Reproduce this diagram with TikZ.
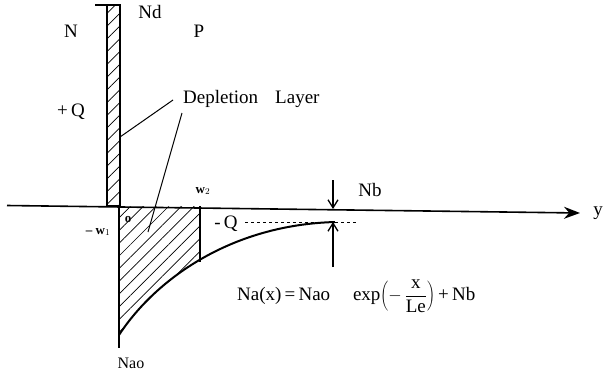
\documentclass[tikz,border=0pt]{standalone}
\usepackage{fontspec}
\setmainfont{Liberation Serif}
\usetikzlibrary{patterns.meta,arrows.meta}
\begin{document}
\begin{tikzpicture}[x=1pt,y=-1pt,
  lbl/.style={inner sep=0pt, font=\fontsize{19}{22}\selectfont},
  smalllbl/.style={inner sep=0pt, font=\fontsize{13}{15}\selectfont\bfseries},
  hatch/.style={pattern={Lines[angle=45,distance=9pt,line width=0.7pt]}},
  mainline/.style={line width=1.6pt},
  leader/.style={line width=1pt},
  nbarrow/.style={line width=1.3pt,-{Straight Barb[length=8pt,width=10pt,line width=1.3pt]}}]
\useasboundingbox (0,0) rectangle (604,375);
% axis
\draw[mainline,-{Stealth[length=16pt,width=12pt]}] (7,205.5) -- (580,213);
% upper hatched block (+Q)
\draw[mainline,hatch] (107,5) rectangle (120,206);
\draw[mainline] (95,5) -- (120,5);
% vertical axis below
\draw[mainline] (119,206) -- (119,348);
% lower hatched region (-Q)
\begin{scope}
  \clip (119,335) .. controls (155,280) and (230,225) .. (335,222) -- (335,206) -- (119,206) -- cycle;
  \fill[hatch] (119,206) rectangle (200,345);
\end{scope}
\draw[mainline] (200,206) -- (200,262);
\draw[line width=2pt] (119,335) .. controls (155,280) and (230,225) .. (335,222);
% dashed asymptote
\draw[dashed,line width=1pt] (245,222) -- (358,222);
% Nb arrows
\draw[nbarrow] (333,180) -- (333,209);
\draw[nbarrow] (333,267) -- (333,222);
% labels
\node[lbl] (N) at (71,31) {N};
\node[lbl] (Nd) at (150,12) {Nd};
\node[lbl] (P) at (199,31) {P};
\node[lbl] (pQ) at (71,112) {+\,Q};
\node[lbl,anchor=west] (dl) at (183,99) {Depletion\hspace{0.9em}Layer};
\node[smalllbl] (w2) at (203,191) {w$_2$};
\node[smalllbl] (o) at (128,219) {o};
\node[smalllbl] (w1) at (98,232) {-- w$_1$};
\node[lbl] (mQ) at (226,224) {-\,Q};
\node[lbl] (Nb) at (370,190) {Nb};
\node[lbl,anchor=west] (eq) at (237,296) {Na(x)\,=\,Nao\hspace{1.2em}exp$\displaystyle\left(-\,\frac{\mbox{x}}{\mbox{Le}}\right)$\,+\,Nb};
\node[font=\fontsize{16}{18}\selectfont,inner sep=0pt] (Nao) at (131,363) {Nao};
\node[lbl,anchor=east] (yl) at (603,213) {y};
% leader lines
\coordinate (s1) at (173,100);
\coordinate (t1) at (120,137);
\coordinate (s2) at (182,113);
\coordinate (t2) at (148,232);
\draw[leader] (s1) -- (t1);
\draw[leader] (s2) -- (t2);
\end{tikzpicture}
\end{document}
